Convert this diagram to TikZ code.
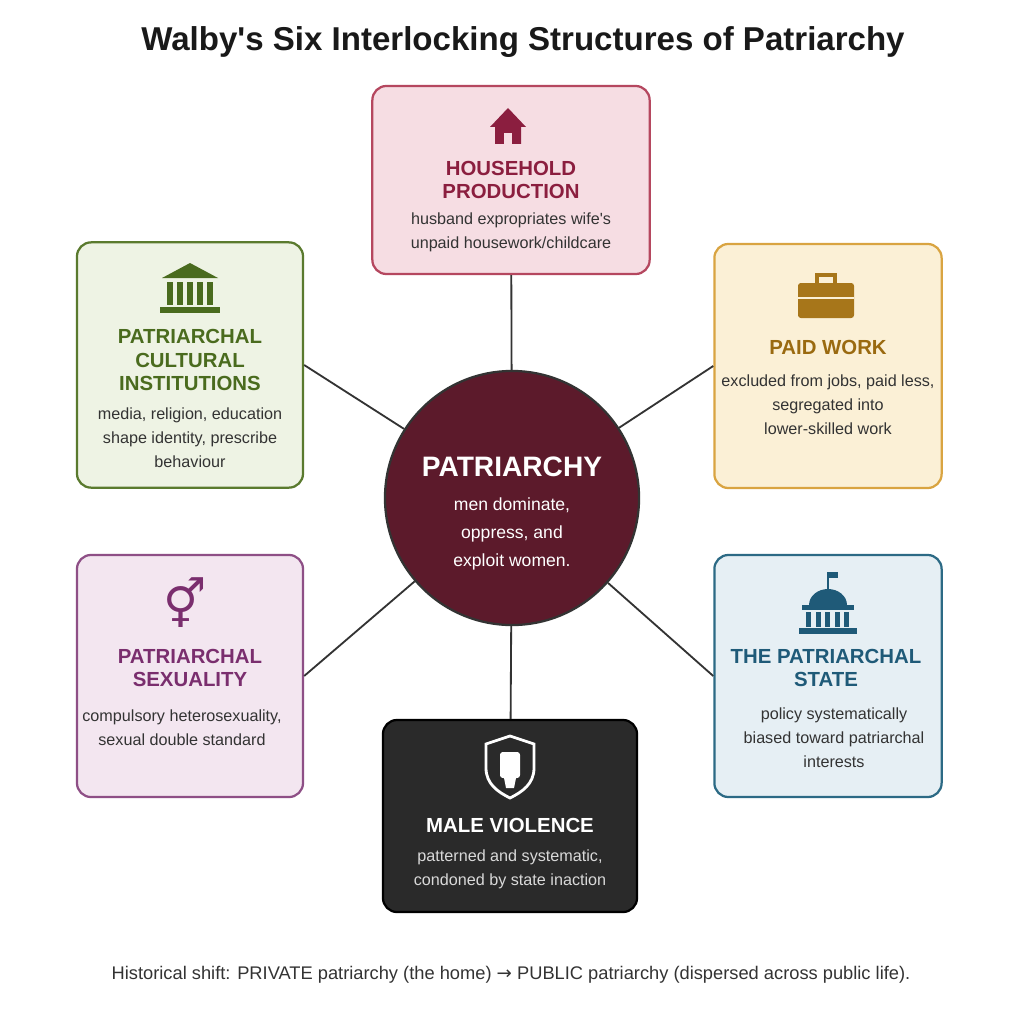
\documentclass[tikz,border=0pt]{standalone}
\usepackage{fontspec}
\setmainfont{Liberation Sans}
\newfontfamily\symfont{DejaVu Sans}
\usetikzlibrary{positioning}
\definecolor{hhfill}{HTML}{F6DDE3}\definecolor{hhline}{HTML}{B5475F}\definecolor{hhtext}{HTML}{8B1E3F}
\definecolor{cufill}{HTML}{EEF3E4}\definecolor{culine}{HTML}{5A7A2E}\definecolor{cutext}{HTML}{4A6B1E}
\definecolor{pwfill}{HTML}{FBF0D6}\definecolor{pwline}{HTML}{D9A441}\definecolor{pwtext}{HTML}{9A6A10}
\definecolor{sxfill}{HTML}{F3E6F0}\definecolor{sxline}{HTML}{8E4F86}\definecolor{sxtext}{HTML}{7A2E6E}
\definecolor{stfill}{HTML}{E6EFF4}\definecolor{stline}{HTML}{2C6A85}\definecolor{sttext}{HTML}{1F5A78}
\definecolor{mvfill}{HTML}{2A2A2A}\definecolor{core}{HTML}{5C1A2B}\definecolor{ink}{HTML}{333333}
\tikzset{
  box/.style={draw, line width=1.6pt, rounded corners=10pt},
  head/.style={font=\bfseries\fontsize{14.5}{17}\selectfont, align=center},
  body/.style={font=\fontsize{11.5}{17}\selectfont, align=center, text=ink},
  link/.style={draw=ink, line width=1.3pt},
}
\begin{document}
\begin{tikzpicture}[x=0.025cm,y=-0.025cm]
\useasboundingbox[fill=white] (0,0) rectangle (1024,1024);

\node[font=\bfseries\fontsize{23.5}{26}\selectfont, text=black!90] (title) at (523,42) {Walby\textquotesingle s Six Interlocking Structures of Patriarchy};

% boxes
\node[box, fill=hhfill, draw=hhline, minimum width=6.93cm, minimum height=4.7cm] (hh) at (511,180) {};
\node[box, fill=cufill, draw=culine, minimum width=5.65cm, minimum height=6.13cm] (cu) at (190,365) {};
\node[box, fill=pwfill, draw=pwline, minimum width=5.68cm, minimum height=6.1cm] (pw) at (828,366) {};
\node[box, fill=sxfill, draw=sxline, minimum width=5.65cm, minimum height=6.05cm] (sx) at (190,676) {};
\node[box, fill=stfill, draw=stline, minimum width=5.68cm, minimum height=6.05cm] (st) at (828,676) {};
\node[box, fill=mvfill, draw=black, minimum width=6.35cm, minimum height=4.8cm] (mv) at (510,816) {};
\node[circle, draw=black!80, line width=1.6pt, fill=core, minimum size=6.35cm] (pa) at (512,498) {};

\draw[link] (pa) -- (hh);
\draw[link] (pa) -- (mv);
\draw[link] (pa) -- (cu.east);
\draw[link] (pa) -- (pw.west);
\draw[link] (pa) -- (sx.east);
\draw[link] (pa) -- (st.west);

% centre
\node[font=\bfseries\fontsize{20}{22}\selectfont, text=white] (pa-h) at (512,467) {PATRIARCHY};
\node[body, text=white, font=\fontsize{12.5}{20}\selectfont] (pa-b) at (512,534) {men dominate,\\oppress, and\\exploit women.};

% household
\fill[hhtext] (490,127) -- (508,108) -- (526,127) -- (521,127) -- (521,144) -- (495,144) -- (495,127) -- cycle;
\fill[hhfill] (504,133) rectangle (512,144);
\node[head, text=hhtext] (hh-h) at (511,180) {HOUSEHOLD\\PRODUCTION};
\node[body] (hh-b) at (511,232) {husband expropriates wife\textquotesingle s\\unpaid housework/childcare};

% cultural
\fill[cutext] (162,278) -- (190,263) -- (218,278) -- cycle;
\foreach \i in {0,...,4} \fill[cutext] (167+\i*10,282) rectangle (173+\i*10,305);
\fill[cutext] (160,307) rectangle (220,313);
\node[head, text=cutext] (cu-h) at (190,360) {PATRIARCHAL\\CULTURAL\\INSTITUTIONS};
\node[body] (cu-b) at (190,438) {media, religion, education\\shape identity, prescribe\\behaviour};

% paid work
\fill[pwtext!80!pwline, rounded corners=2pt] (798,283) rectangle (854,318);
\draw[pwtext!80!pwline, line width=2.5pt] (817,283) -- (817,275) -- (835,275) -- (835,283);
\draw[pwfill, line width=1.2pt] (798,298) -- (854,298);
\node[head, text=pwtext] (pw-h) at (828,347) {PAID WORK};
\node[body] (pw-b) at (828,405) {excluded from jobs, paid less,\\segregated into\\lower-skilled work};

% sexuality
\node[font=\symfont\fontsize{34}{34}\selectfont, text=sxtext] (sx-i) at (185,603) {⚥};
\node[head, text=sxtext] (sx-h) at (190,668) {PATRIARCHAL\\SEXUALITY};
\node[body] (sx-b) at (182,728) {compulsory heterosexuality,\\sexual double standard};

% state
\fill[sttext] (809,605) arc (180:360:19 and 16) -- cycle;
\draw[sttext, line width=1pt] (828,589) -- (828,572);
\fill[sttext] (828,572) rectangle (838,578);
\fill[sttext] (802,605) rectangle (854,610);
\foreach \i in {0,...,4} \fill[sttext] (806+\i*9.5,612) rectangle (811+\i*9.5,627);
\fill[sttext] (799,628) rectangle (857,634);
\node[head, text=sttext] (st-h) at (826,668) {THE PATRIARCHAL\\STATE};
\node[body] (st-b) at (834,738) {policy systematically\\biased toward patriarchal\\interests};

% male violence
\draw[white, line width=2pt, fill=mvfill] (486,744) -- (510,736) -- (534,744) -- (534,768) .. controls (534,784) and (522,792) .. (510,798) .. controls (498,792) and (486,784) .. (486,768) -- cycle;
\fill[white, rounded corners=2pt] (500,752) rectangle (520,778);
\fill[white] (504,778) -- (516,778) -- (514,788) -- (506,788) -- cycle;
\node[head, text=white] (mv-h) at (510,825) {MALE VIOLENCE};
\node[body, text=white!85!black] (mv-b) at (510,869) {patterned and systematic,\\condoned by state inaction};

\node[font=\fontsize{13}{15}\selectfont, text=ink] (note) at (511,975) {Historical shift: PRIVATE patriarchy (the home) {\symfont→} PUBLIC patriarchy (dispersed across public life).};
\end{tikzpicture}
\end{document}
